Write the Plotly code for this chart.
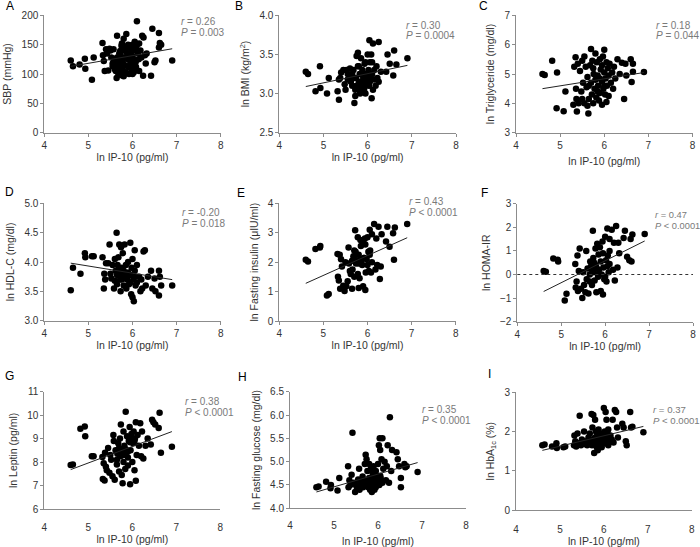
import plotly.graph_objects as go

W, H = 700, 547

# ---------------- data ----------------
x_title = "ln IP-10 (pg/ml)"
panel_letters = ["A", "B", "C", "D", "E", "F", "G", "H", "I"]
y_titles = ["SBP (mmHg)", "ln BMI (kg/m<sup>2</sup>)", "ln Triglyceride (mg/dl)",
            "ln HDL-C (mg/dl)", "ln Fasting insulin (μIU/ml)", "ln HOMA-IR",
            "ln Leptin (pg/ml)", "ln Fasting glucose (mg/dl)", "ln HbA<sub>1c</sub> (%)"]
y_ranges = [[0, 200], [2.5, 4.0], [3, 7], [3.0, 5.0], [0, 4], [-2, 3], [6, 11], [4.0, 6.5], [0, 3]]
y_dticks = [50, 0.5, 1, 0.5, 1, 1, 1, 0.5, 1]
y_formats = ["", ".1f", "", ".1f", "", "", "", ".1f", ""]
r_values = ["0.26", "0.30", "0.18", "-0.20", "0.43", "0.47", "0.38", "0.35", "0.37"]
p_values = ["= 0.003", "= 0.0004", "= 0.044", "= 0.018", "< 0.0001", "< 0.0001",
            "< 0.0001", "< 0.0001", "< 0.0001"]
x_range = [4, 8]
trend_x = [4.6, 6.9]
trend_y = [[113, 143], [3.09, 3.36], [4.5, 5.05], [3.98, 3.7], [1.28, 2.83],
           [-0.72, 1.42], [7.68, 9.3], [4.35, 4.98], [1.52, 2.13]]

a_x = [4.6, 4.65, 4.8, 4.92, 4.93, 5.08, 5.12, 5.32, 5.33, 5.35, 5.37, 5.4, 5.42, 5.45, 5.48, 5.5, 5.52, 5.55,
       5.57, 5.58, 5.6, 5.62, 5.64, 5.65, 5.66, 5.68, 5.7, 5.7, 5.72, 5.73, 5.75, 5.76, 5.77, 5.78, 5.78, 5.8,
       5.8, 5.82, 5.83, 5.85, 5.86, 5.88, 5.9, 5.9, 5.92, 5.94, 5.95, 5.97, 5.98, 6.0, 6.0, 6.02, 6.03, 6.05,
       6.05, 6.07, 6.08, 6.1, 6.1, 6.12, 6.14, 6.15, 6.18, 6.2, 6.22, 6.24, 6.25, 6.28, 6.3, 6.32, 6.42, 6.45,
       6.5, 6.52, 6.6, 6.62, 6.65, 6.6, 6.9, 5.75, 5.85, 5.95, 6.05, 5.65, 5.55, 5.8, 6.0, 5.9, 6.15, 5.7, 5.6,
       6.08, 5.78]
a_y = [123, 113, 116, 126, 109, 90, 128, 153, 132, 122, 105, 142, 135, 106, 143, 140, 128, 113,
       142, 122, 108, 105, 93, 165, 118, 100, 125, 110, 139, 132, 98, 152, 145, 120, 105, 160,
       140, 128, 115, 103, 168, 135, 125, 112, 100, 145, 118, 138, 108, 150, 130, 125, 103, 155,
       140, 120, 112, 190, 150, 135, 125, 105, 140, 128, 165, 97, 162, 132, 118, 135, 97, 177,
       120, 123, 170, 153, 150, 145, 123, 148, 143, 132, 115, 128, 118, 96, 100, 150, 152, 135, 112,
       145, 113]

b_x = [4.6, 4.65, 4.82, 4.92, 4.93, 5.08, 5.12, 5.32, 5.35, 5.35, 5.38, 5.4, 5.45, 5.48, 5.5, 5.52, 5.55, 5.6,
       5.62, 5.65, 5.68, 5.7, 5.72, 5.72, 5.74, 5.75, 5.78, 5.78, 5.8, 5.82, 5.83, 5.85, 5.86, 5.88, 5.9, 5.92,
       5.93, 5.95, 5.96, 5.98, 6.0, 6.02, 6.03, 6.04, 6.05, 6.06, 6.08, 6.09, 6.1, 6.12, 6.12, 6.15, 6.18, 6.2,
       6.22, 6.25, 6.25, 6.3, 6.42, 6.45, 6.5, 6.58, 6.6, 6.65, 6.9, 5.85, 5.9, 5.7, 5.8, 6.0, 5.95, 5.65, 6.05,
       5.75, 5.55, 5.6, 6.15, 5.85, 5.95, 6.1]
b_y = [3.28, 3.25, 3.03, 3.35, 3.07, 3.0, 3.2, 3.03, 2.92, 3.18, 3.2, 3.27, 3.3, 3.12, 3.05, 3.3, 3.25, 3.22,
       3.15, 3.1, 3.3, 2.88, 3.05, 2.97, 3.2, 3.48, 3.52, 3.35, 3.15, 3.25, 3.0, 3.45, 3.1, 3.3, 3.2, 3.05,
       3.38, 3.0, 3.25, 3.15, 3.5, 3.3, 3.1, 3.68, 3.4, 3.2, 3.5, 2.94, 3.25, 3.64, 3.05, 3.3, 3.1, 3.35,
       3.2, 3.66, 3.15, 3.28, 3.28, 3.5, 3.38, 3.23, 3.55, 3.37, 3.45, 3.25, 3.15, 3.2, 3.35, 3.2, 3.4, 3.25,
       3.15, 3.1, 3.18, 3.32, 3.18, 3.05, 3.1, 3.4]

c_x = [4.6, 4.65, 4.82, 4.92, 4.93, 5.08, 5.12, 5.3, 5.32, 5.35, 5.36, 5.37, 5.38, 5.4, 5.42, 5.45, 5.48, 5.5,
       5.5, 5.52, 5.55, 5.55, 5.58, 5.6, 5.62, 5.62, 5.64, 5.65, 5.68, 5.7, 5.7, 5.72, 5.73, 5.75, 5.76, 5.78,
       5.8, 5.8, 5.82, 5.83, 5.85, 5.86, 5.88, 5.9, 5.9, 5.92, 5.95, 5.95, 5.97, 5.98, 6.0, 6.0, 6.02, 6.03,
       6.05, 6.06, 6.08, 6.1, 6.1, 6.12, 6.15, 6.18, 6.2, 6.22, 6.25, 6.3, 6.35, 6.4, 6.45, 6.48, 6.5, 6.6,
       6.62, 6.65, 6.65, 6.9, 5.75, 5.85, 5.95, 6.05, 5.65, 5.9, 6.0]
c_y = [5.0, 4.97, 5.45, 3.83, 5.05, 3.73, 4.4, 3.95, 5.25, 5.57, 4.5, 4.15, 3.72, 5.35, 4.0, 5.1, 4.4, 4.15,
       5.45, 4.7, 5.6, 4.0, 5.25, 4.55, 3.92, 4.9, 3.65, 4.15, 5.3, 5.85, 4.7, 4.3, 5.45, 4.0, 5.0, 4.5,
       5.7, 4.8, 4.2, 5.4, 4.95, 4.6, 4.1, 5.5, 4.35, 5.15, 3.95, 4.75, 5.6, 4.5, 5.83, 5.05, 4.3, 4.85,
       5.4, 4.6, 5.2, 4.25, 4.95, 5.35, 4.7, 5.05, 4.5, 5.25, 4.85, 5.5, 5.0, 5.38, 4.15, 5.35, 4.95, 5.5,
       4.73, 5.08, 5.35, 5.07, 5.2, 4.4, 5.3, 4.05, 4.6, 4.85, 4.6]

d_x = [4.6, 4.65, 4.82, 4.92, 4.93, 5.08, 5.12, 5.32, 5.35, 5.36, 5.38, 5.4, 5.45, 5.48, 5.5, 5.52, 5.55, 5.58,
       5.6, 5.62, 5.64, 5.65, 5.66, 5.68, 5.7, 5.72, 5.73, 5.74, 5.75, 5.76, 5.78, 5.8, 5.8, 5.82, 5.83, 5.85,
       5.86, 5.88, 5.9, 5.9, 5.92, 5.95, 5.95, 5.97, 5.98, 6.0, 6.0, 6.02, 6.03, 6.05, 6.05, 6.07, 6.1, 6.1,
       6.15, 6.18, 6.2, 6.22, 6.25, 6.28, 6.3, 6.35, 6.42, 6.45, 6.5, 6.52, 6.6, 6.6, 6.62, 6.65, 6.9, 5.75,
       5.85, 5.7, 5.95, 6.05, 5.6, 5.8, 5.65]
d_y = [3.52, 3.9, 3.8, 4.15, 4.08, 4.1, 4.1, 4.08, 3.55, 3.8, 3.7, 3.98, 3.98, 4.3, 3.8, 3.72, 3.95, 3.55,
       4.05, 3.85, 4.5, 3.62, 3.95, 4.08, 4.3, 3.7, 3.5, 4.25, 3.9, 3.78, 4.15, 3.6, 3.85, 4.3, 3.75, 3.95,
       3.55, 3.7, 4.0, 3.82, 3.62, 4.33, 3.78, 3.45, 3.9, 3.4, 4.05, 3.7, 3.33, 4.2, 3.85, 3.6, 3.95, 3.65,
       3.75, 3.5, 3.7, 3.55, 4.18, 4.2, 3.6, 3.75, 3.85, 3.55, 3.72, 3.5, 3.85, 3.43, 3.75, 3.6, 3.6, 3.7,
       3.8, 3.85, 3.65, 3.75, 3.68, 3.72, 3.78]

e_x = [4.6, 4.65, 4.82, 4.92, 4.93, 5.08, 5.12, 5.32, 5.33, 5.35, 5.37, 5.38, 5.4, 5.42, 5.45, 5.48, 5.5, 5.52,
       5.55, 5.57, 5.58, 5.6, 5.62, 5.65, 5.66, 5.68, 5.7, 5.72, 5.73, 5.74, 5.76, 5.78, 5.78, 5.8, 5.8, 5.82,
       5.84, 5.85, 5.86, 5.88, 5.9, 5.9, 5.92, 5.94, 5.95, 5.96, 5.98, 6.0, 6.02, 6.03, 6.05, 6.06, 6.08, 6.1,
       6.1, 6.15, 6.18, 6.2, 6.22, 6.25, 6.28, 6.3, 6.32, 6.42, 6.45, 6.5, 6.58, 6.6, 6.62, 6.9, 5.75, 5.85,
       5.95, 6.05, 5.65, 5.8, 6.0, 5.7]
e_y = [2.08, 2.02, 2.45, 2.5, 2.55, 0.87, 0.92, 2.28, 1.5, 1.38, 2.25, 1.1, 2.1, 1.85, 1.2, 1.02, 2.0, 1.18,
       1.35, 2.5, 1.95, 1.7, 1.6, 1.1, 1.75, 2.2, 1.5, 3.08, 2.35, 1.95, 2.05, 1.6, 2.85, 2.25, 1.12, 1.45,
       2.75, 2.55, 2.0, 1.9, 2.7, 1.18, 2.15, 2.8, 1.05, 1.65, 2.1, 2.85, 2.35, 1.7, 3.1, 2.4, 1.65, 2.95,
       2.0, 3.3, 1.75, 2.8, 1.9, 3.2, 1.43, 1.85, 2.95, 2.7, 3.2, 2.52, 2.98, 2.08, 3.18, 3.3, 2.25, 2.1,
       2.6, 2.25, 2.05, 1.95, 1.9, 2.4]

f_x = [4.6, 4.65, 4.82, 4.92, 4.93, 5.08, 5.12, 5.32, 5.33, 5.35, 5.37, 5.38, 5.4, 5.42, 5.45, 5.48, 5.5, 5.52,
       5.55, 5.57, 5.58, 5.6, 5.62, 5.65, 5.66, 5.68, 5.7, 5.72, 5.73, 5.74, 5.76, 5.78, 5.78, 5.8, 5.82, 5.84,
       5.85, 5.86, 5.88, 5.9, 5.9, 5.92, 5.94, 5.95, 5.96, 5.98, 6.0, 6.02, 6.03, 6.05, 6.06, 6.08, 6.1, 6.1,
       6.15, 6.18, 6.2, 6.22, 6.25, 6.28, 6.3, 6.32, 6.42, 6.45, 6.5, 6.55, 6.58, 6.6, 6.62, 6.9, 5.75, 5.85,
       5.95, 6.05, 5.65, 5.8, 6.0, 5.7, 6.1]
f_y = [0.15, 0.12, 0.68, 0.62, 0.55, -1.1, -0.82, 0.45, -0.55, -0.3, 0.8, -0.7, 0.15, 1.1, -0.6, -1.0, 0.1,
       -0.45, -0.75, 1.0, -0.2, 0.25, -0.8, -0.3, 0.55, 0.35, -0.45, 1.85, 0.7, 0.1, -0.25, 1.1, 0.4, -0.75,
       1.3, -0.1, 0.85, 0.2, 1.15, -0.7, 0.55, 0.0, 1.4, -0.85, 0.3, -0.2, 1.6, 0.6, -0.3, 1.95, 0.8, 0.1,
       1.5, 0.45, 1.9, 0.2, 1.35, -0.25, 2.05, 0.3, 1.35, 0.9, 1.55, 1.85, 0.75, 0.6, 1.5, 0.55, 1.7, 1.72,
       0.5, 0.0, 0.9, 0.35, 0.0, 0.3, -0.1, 0.2, 1.0]

g_x = [4.6, 4.65, 4.82, 4.92, 4.93, 5.08, 5.12, 5.32, 5.33, 5.35, 5.37, 5.38, 5.4, 5.42, 5.45, 5.48, 5.5, 5.52,
       5.55, 5.57, 5.58, 5.6, 5.62, 5.65, 5.66, 5.68, 5.7, 5.72, 5.73, 5.74, 5.76, 5.78, 5.78, 5.8, 5.8, 5.82,
       5.84, 5.85, 5.86, 5.88, 5.9, 5.9, 5.92, 5.94, 5.95, 5.96, 5.98, 6.0, 6.02, 6.03, 6.05, 6.06, 6.08, 6.08,
       6.1, 6.12, 6.15, 6.18, 6.2, 6.22, 6.25, 6.3, 6.35, 6.42, 6.45, 6.48, 6.52, 6.6, 6.62, 6.65, 6.9, 5.75,
       5.85, 5.95, 6.05, 5.65, 5.8, 6.0, 5.7, 5.9]
g_y = [7.88, 7.9, 9.42, 9.52, 9.1, 8.25, 8.25, 8.22, 7.28, 7.95, 7.22, 8.4, 7.8, 7.65, 8.6, 7.55, 8.3, 8.1,
       7.4, 9.15, 8.9, 7.25, 8.5, 7.9, 8.35, 8.8, 7.6, 9.0, 8.25, 9.6, 7.45, 8.5, 7.1, 9.3, 8.0, 8.7,
       7.7, 10.15, 8.4, 9.1, 8.2, 7.85, 8.9, 9.5, 7.05, 8.5, 9.2, 8.0, 8.8, 9.3, 7.65, 9.0, 9.7, 7.2,
       8.3, 9.15, 8.7, 9.65, 8.25, 9.3, 8.15, 8.7, 9.0, 8.75, 9.8, 9.7, 9.6, 9.45, 10.1, 8.4, 8.65, 8.4,
       8.55, 8.85, 8.9, 8.1, 8.3, 9.0, 8.6, 8.45]

h_x = [4.6, 4.65, 4.82, 4.92, 4.93, 5.08, 5.12, 5.32, 5.33, 5.35, 5.37, 5.4, 5.42, 5.45, 5.48, 5.5, 5.52, 5.55,
       5.57, 5.58, 5.6, 5.62, 5.65, 5.66, 5.68, 5.7, 5.72, 5.73, 5.74, 5.76, 5.78, 5.8, 5.8, 5.82, 5.84, 5.85,
       5.86, 5.88, 5.9, 5.9, 5.92, 5.94, 5.95, 5.96, 5.98, 6.0, 6.02, 6.03, 6.04, 6.05, 6.06, 6.08, 6.1, 6.1,
       6.12, 6.15, 6.18, 6.2, 6.22, 6.25, 6.27, 6.3, 6.32, 6.42, 6.45, 6.48, 6.52, 6.52, 6.6, 6.62, 6.65, 6.9,
       5.75, 5.85, 5.95, 6.05, 5.65, 5.8, 6.0, 5.7, 5.9]
h_y = [4.45, 4.47, 4.57, 4.43, 4.5, 4.38, 4.65, 4.9, 4.45, 4.6, 4.5, 4.72, 5.62, 4.55, 4.35, 4.5, 4.45, 4.62,
       4.85, 4.4, 4.55, 4.5, 4.68, 4.45, 4.58, 4.95, 5.15, 4.55, 5.05, 4.8, 4.45, 4.65, 4.95, 4.4, 4.85, 4.55,
       4.35, 4.75, 4.5, 4.9, 4.4, 4.6, 4.45, 4.7, 4.55, 4.95, 5.35, 4.5, 5.5, 5.25, 4.65, 5.05, 5.5, 4.55,
       4.85, 5.0, 4.6, 4.9, 5.35, 4.55, 5.95, 4.8, 5.25, 5.2, 5.05, 4.9, 4.45, 4.65, 4.95, 4.88, 4.9, 4.78,
       4.6, 4.65, 4.8, 4.7, 4.5, 4.5, 4.6, 4.55, 4.62]

i_x = [4.6, 4.65, 4.82, 4.92, 4.93, 5.08, 5.12, 5.32, 5.33, 5.35, 5.37, 5.4, 5.42, 5.45, 5.48, 5.5, 5.52, 5.55,
       5.57, 5.6, 5.62, 5.65, 5.66, 5.68, 5.7, 5.72, 5.73, 5.74, 5.76, 5.78, 5.78, 5.8, 5.8, 5.82, 5.84, 5.85,
       5.86, 5.88, 5.9, 5.9, 5.92, 5.94, 5.95, 5.96, 5.98, 6.0, 6.02, 6.03, 6.04, 6.05, 6.06, 6.08, 6.1, 6.1,
       6.12, 6.15, 6.18, 6.2, 6.22, 6.25, 6.28, 6.3, 6.32, 6.42, 6.45, 6.5, 6.52, 6.6, 6.62, 6.65, 6.9, 5.75,
       5.85, 5.95, 6.05, 5.65, 5.8, 6.0, 5.7, 5.9]
i_y = [1.65, 1.67, 1.62, 1.7, 1.58, 1.6, 1.62, 1.65, 1.9, 1.75, 1.62, 1.95, 1.7, 2.4, 1.65, 1.8, 1.72, 2.0,
       1.68, 1.75, 1.65, 1.85, 1.7, 1.95, 1.72, 2.45, 1.65, 2.1, 2.42, 1.8, 1.45, 2.3, 1.7, 2.0, 1.6, 1.9,
       1.52, 2.05, 1.75, 1.68, 1.85, 1.95, 1.6, 1.75, 1.85, 2.6, 2.0, 1.7, 2.5, 1.85, 2.3, 1.95, 1.65, 2.05,
       1.75, 1.9, 1.8, 2.3, 1.72, 2.55, 2.5, 2.1, 1.85, 2.2, 2.1, 1.75, 1.65, 2.5, 2.1, 2.12, 1.98, 1.75,
       1.78, 1.9, 1.8, 1.72, 1.85, 1.7, 1.8, 1.82]

xs = [a_x, b_x, c_x, d_x, e_x, f_x, g_x, h_x, i_x]
ys = [a_y, b_y, c_y, d_y, e_y, f_y, g_y, h_y, i_y]

# ---------------- layout geometry (pixels) ----------------
plot_px = [  # x0, x1, ytop, ybottom
    (44.3, 220.7, 15.3, 132.7), (279.3, 456.0, 15.3, 132.7), (516.0, 692.5, 15.3, 132.7),
    (44.3, 220.7, 203.3, 320.7), (279.3, 455.7, 203.3, 321.0), (517.3, 693.0, 203.7, 321.7),
    (44.3, 220.3, 391.7, 509.0), (290.0, 466.0, 391.7, 508.3), (516.0, 691.7, 392.3, 510.0),
]
letter_px = [(4, 6), (233, 6), (477, 6), (3, 192), (234.5, 192.5), (478.5, 192.5),
             (3, 376), (236, 377.5), (486, 374)]
rp_px = [(179, 21.7), (404, 25), (654, 25), (180, 212.7), (406.7, 201.7), (653, 215),
         (182.7, 401.7), (420, 409), (651, 409.3)]
rp_size = [10, 10, 10, 10, 10, 9.3, 10, 10, 9.6]
# bottom row: visible ticks point inwards; labels sit further below the axis
inside_ticks = [False] * 6 + [True] * 3
label_gap = [3, 3, 3, 3, 3, 3, 9, 8, 9.5]
xtitle_standoff = [1, 1, 7, 2, 2, 1, 3, 7, 5]

FONT = "Liberation Sans, Arial, sans-serif"
AX = "#8c8c8c"
TXT = "#333333"

fig = go.Figure()
layout = dict(width=W, height=H, margin=dict(l=0, r=0, t=0, b=0),
              plot_bgcolor="white", paper_bgcolor="white", showlegend=False,
              font=dict(family=FONT, color=TXT))
annotations = []
shapes = []

def px2x(p):
    return p / W

def px2y(p):
    return 1 - p / H

extra = 10
for i in range(9):
    n = "" if i == 0 else str(i + 1)
    x0, x1, yt, yb = plot_px[i]
    layout["xaxis" + n] = dict(
        domain=[px2x(x0), px2x(x1)], range=x_range, dtick=1, tick0=4, anchor="y" + n,
        showline=True, linecolor=AX, linewidth=1, ticks="outside", ticklen=label_gap[i],
        tickcolor="rgba(0,0,0,0)" if inside_ticks[i] else AX,
        showgrid=False, zeroline=False, automargin=False,
        tickfont=dict(size=10, color=TXT, family=FONT),
        title=dict(text=x_title, font=dict(size=10.5, color=TXT, family=FONT), standoff=xtitle_standoff[i]))
    if inside_ticks[i]:
        layout["xaxis" + str(extra)] = dict(
            overlaying="x" + n, anchor="y" + n, side="bottom", range=x_range, dtick=1, tick0=4,
            ticks="inside", ticklen=3, tickcolor=AX, showticklabels=False, showline=False,
            showgrid=False, zeroline=False, automargin=False)
        extra += 1
    layout["yaxis" + n] = dict(
        domain=[px2y(yb), px2y(yt)], range=y_ranges[i], dtick=y_dticks[i], tick0=y_ranges[i][0],
        tickformat=y_formats[i], anchor="x" + n,
        showline=True, linecolor=AX, linewidth=1, ticks="outside", ticklen=3, tickcolor=AX,
        showgrid=False, zeroline=False, automargin=False,
        tickfont=dict(size=10, color=TXT, family=FONT),
        title=dict(text=y_titles[i], font=dict(size=10.5, color=TXT, family=FONT), standoff=7))

    fig.add_trace(go.Scatter(x=xs[i], y=ys[i], mode="markers", xaxis="x" + n, yaxis="y" + n,
                             marker=dict(size=6.5, color="black", line=dict(width=0)),
                             cliponaxis=False, hoverinfo="skip"))
    fig.add_trace(go.Scatter(x=trend_x, y=trend_y[i], mode="lines", xaxis="x" + n, yaxis="y" + n,
                             line=dict(color="#222222", width=1), hoverinfo="skip"))

    lx, ly = letter_px[i]
    annotations.append(dict(text=panel_letters[i], xref="paper", yref="paper", x=px2x(lx), y=px2y(ly),
                            xanchor="left", yanchor="middle", showarrow=False,
                            font=dict(size=12, color="black", family=FONT)))
    rx, ry = rp_px[i]
    annotations.append(dict(text="<i>r</i> = " + r_values[i], xref="paper", yref="paper",
                            x=px2x(rx), y=px2y(ry), xanchor="left", yanchor="middle", showarrow=False,
                            font=dict(size=rp_size[i], color="#7a7a7a", family=FONT)))
    annotations.append(dict(text="<i>P</i> " + p_values[i], xref="paper", yref="paper",
                            x=px2x(rx), y=px2y(ry + 11), xanchor="left", yanchor="middle", showarrow=False,
                            font=dict(size=rp_size[i], color="#7a7a7a", family=FONT)))

# dotted zero line in panel F
shapes.append(dict(type="line", xref="x6 domain", yref="y6", x0=0, x1=1, y0=0, y1=0,
                   line=dict(color="#333333", width=1, dash="dot")))

layout["annotations"] = annotations
layout["shapes"] = shapes
fig.update_layout(**layout)
fig.write_html("out.html", config={"displayModeBar": False},
               post_script="document.body.style.margin='0';document.body.style.overflow='hidden';")
